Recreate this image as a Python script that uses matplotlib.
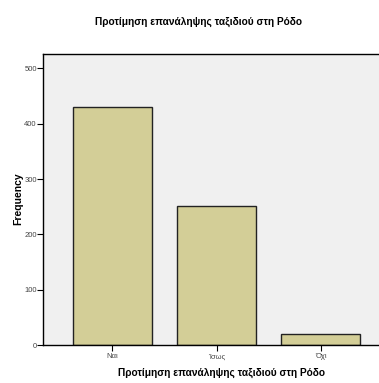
import matplotlib
matplotlib.use('Agg')
import matplotlib.pyplot as plt

# Dados do gráfico
categorias = ['Ναι', 'Ίσως', 'Όχι']
frequencias = [431, 252, 20]
titulo = 'Προτίμηση επανάληψης ταξιδιού στη Ρόδο'

plt.rcParams['font.family'] = ['Liberation Sans', 'DejaVu Sans']

fig = plt.figure(figsize=(3.79, 3.83), dpi=100)
ax = fig.add_axes([43/379, 1 - 345/383, 336/379, 291/383])
ax.set_facecolor('#f0f0f0')

ax.bar(range(len(categorias)), frequencias, width=0.754, color='#d3ce97',
       edgecolor='#222222', linewidth=1.0)

ax.set_xlim(-0.666, 2.56)
ax.set_ylim(0, 526)
ax.set_yticks([0, 100, 200, 300, 400, 500])
ax.set_xticks(range(len(categorias)))
ax.set_xticklabels(categorias)
ax.tick_params(axis='both', labelsize=5.5, labelcolor='#444444', length=4, width=0.8,
               direction='out', pad=0.5)
ax.tick_params(axis='x', pad=2)

for lado in ['left', 'bottom', 'top']:
    ax.spines[lado].set_linewidth(1.0)
    ax.spines[lado].set_color('black')
ax.spines['right'].set_visible(False)

# Rótulos e títulos
fig.text(18.5/379, 1 - 199/383, 'Frequency', rotation=90, ha='center', va='center',
         fontsize=7.5, fontweight='bold')
fig.text(221/379, 1 - 373/383, titulo, ha='center', va='center', fontsize=7.3, fontweight='bold')
fig.text(198.5/379, 1 - 22/383, titulo, ha='center', va='center', fontsize=7.3, fontweight='bold')

fig.savefig('out.png', dpi=100)
